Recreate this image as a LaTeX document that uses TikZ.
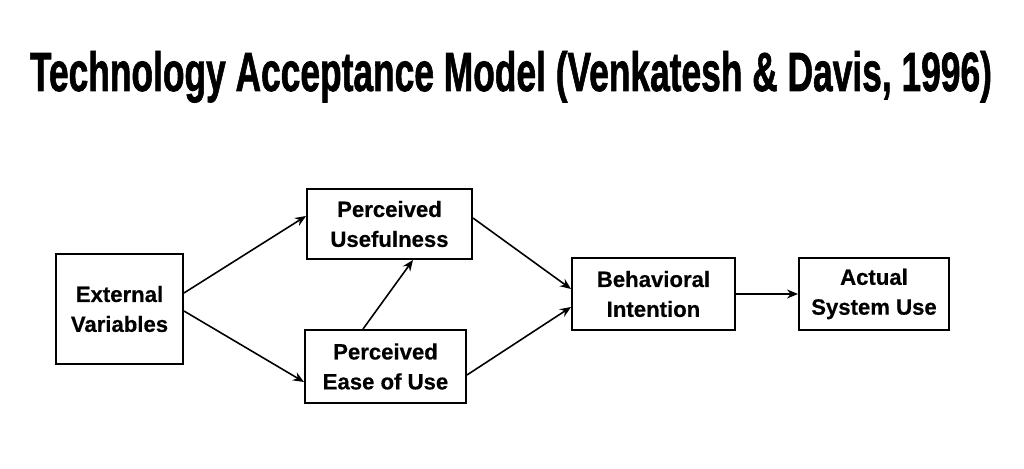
\documentclass[tikz,border=0pt]{standalone}
\usepackage{fontspec}
\setmainfont{Liberation Sans}[BoldFeatures={FakeBold=0.5}]
\newfontfamily\titlefont{Liberation Sans}[UprightFont=*-Bold, UprightFeatures={FakeBold=1.5}]
\usetikzlibrary{arrows.meta}

\begin{document}
\begin{tikzpicture}[
    >={Stealth[length=2.2mm,width=1.8mm]},
    line width=0.9pt,
    box/.style={draw, line width=1.1pt, align=center, inner sep=0pt,
                font=\bfseries\fontsize{12.6}{17}\selectfont}
]
  \useasboundingbox (0,0) rectangle (20.48,9.38);

  % title
  \node[anchor=base] (title) at (10.22,7.56)
    {\resizebox{19.24cm}{0.80cm}{\titlefont Technology Acceptance Model (Venkatesh \& Davis, 1996)}};

  % nodes
  \node[box, minimum width=2.54cm, minimum height=2.2cm]  (EV)   at (2.39,3.20)  {External\\Variables};
  \node[box, minimum width=3.3cm,  minimum height=1.4cm]  (PU)   at (7.79,4.90)  {Perceived\\Usefulness};
  \node[box, minimum width=3.22cm, minimum height=1.46cm] (PEOU) at (7.71,2.05)  {Perceived\\Ease of Use};
  \node[box, minimum width=3.26cm, minimum height=1.44cm] (BI)   at (13.07,3.50) {Behavioral\\Intention};
  \node[box, minimum width=3.0cm,  minimum height=1.44cm] (ASU)  at (17.48,3.50) {Actual\\System Use};

  % edges
  \draw[->] ([yshift=3.2mm]EV.east)  -- ([yshift=1.6mm]PU.west);
  \draw[->] ([yshift=-0.4mm]EV.east) -- ([yshift=-3.1mm]PEOU.west);
  \draw[->] ([xshift=-4.5mm]PEOU.north) -- ([xshift=4.7mm]PU.south);
  \draw[->] ([yshift=1.2mm]PU.east)  -- ([yshift=1mm]BI.west);
  \draw[->] ([yshift=-1.7mm]PEOU.east) -- ([yshift=-2.6mm]BI.west);
  \draw[->] (BI) -- (ASU);
\end{tikzpicture}
\end{document}
